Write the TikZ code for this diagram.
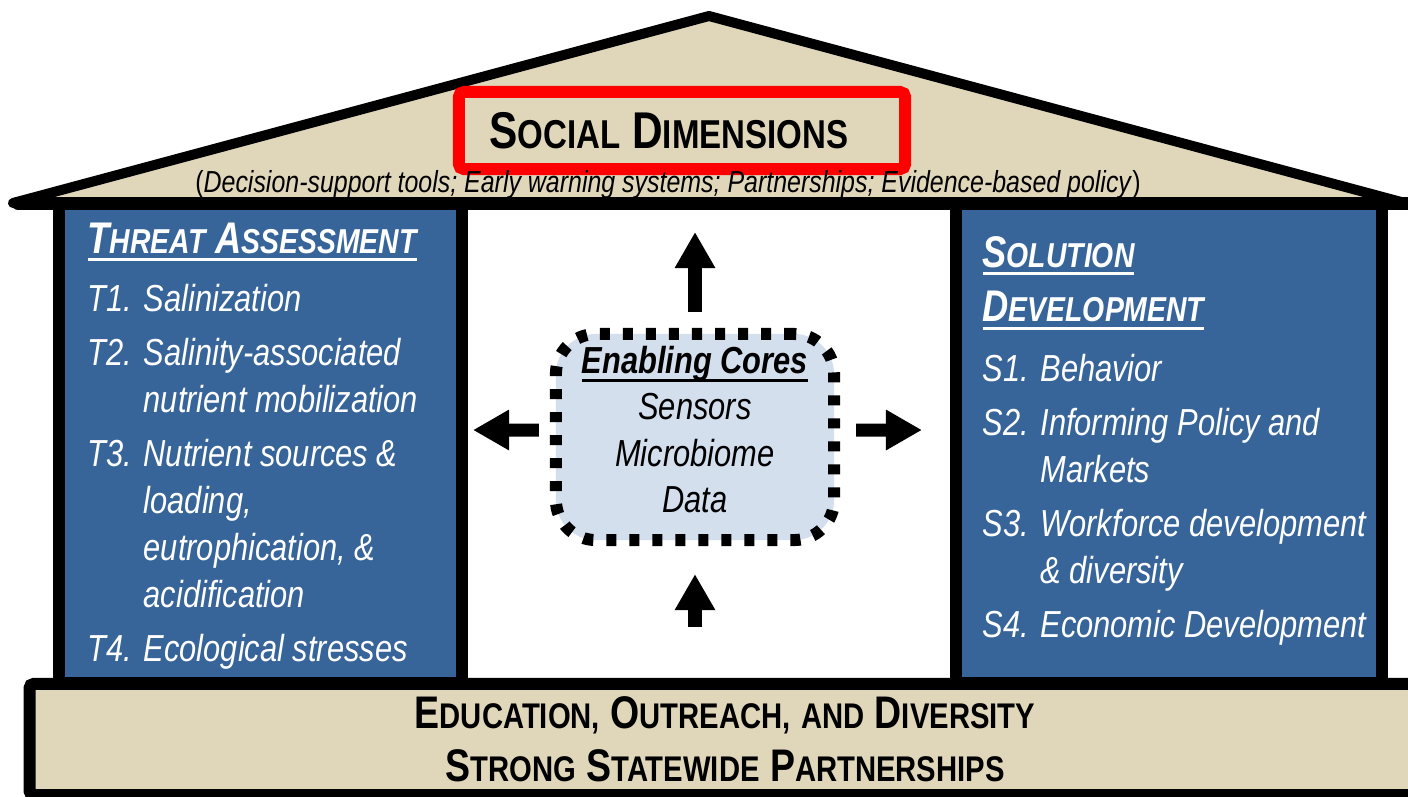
\documentclass[tikz,border=0pt]{standalone}
\usepackage{fontspec}
\setmainfont{Liberation Sans}[FakeStretch=0.82]
\usepackage{xcolor}
\usetikzlibrary{positioning, arrows.meta}

\definecolor{roofbeige}{RGB}{224,215,187}
\definecolor{pillarblue}{RGB}{55,101,154}
\definecolor{corefill}{RGB}{212,223,238}

% fake small caps and a low underline
\makeatletter
\newcommand{\scap}[2]{#1{\fontsize{\fpeval{0.78*\f@size}}{\f@baselineskip}\selectfont #2}}
\makeatother
\newcommand{\uln}[1]{\setbox0\hbox{#1}\rlap{\rule[-2.4pt]{\wd0}{0.9pt}}\box0}

\begin{document}
\begin{tikzpicture}[x=0.01cm, y=-0.01cm,
    pillar/.style={draw=black, fill=pillarblue, line width=0.12cm, minimum height=4.79cm, inner sep=0pt},
    headtext/.style={text=white, anchor=base west, inner sep=0pt, font=\bfseries\itshape\fontsize{12.6}{15.6}\selectfont},
    listtext/.style={text=white, anchor=base west, inner sep=0pt, font=\itshape\fontsize{10.7}{13.4}\selectfont},
    cores/.style={draw=black, fill=corefill, line width=0.12cm, dash pattern=on 0.10cm off 0.13cm,
      rounded corners=0.4cm, minimum width=2.78cm, minimum height=2.06cm, align=center,
      font=\itshape\fontsize{10.7}{13.2}\selectfont},
    blockarrow/.style={line width=0.13cm, -{Triangle[width=0.38cm, length=0.36cm]}}]
  \useasboundingbox (0,0) rectangle (1408,796);
  \clip (0,0) rectangle (1408,796);
  \fill[white] (0,0) rectangle (1408,796);

  % roof
  \filldraw[fill=roofbeige, line width=0.10cm, line join=round] (13,203) -- (709,16) -- (1405,203) -- cycle;

  % pillars
  \node[pillar, minimum width=4.03cm] (threat) at (260.5,443.5) {};
  \node[pillar, minimum width=4.255cm] (solution) at (1169,443.5) {};
  \draw[line width=0.13cm, line cap=round] (18,203) -- (1420,203);

  % foundation
  \node[draw=black, fill=roofbeige, line width=0.12cm, rounded corners=0.04cm, minimum width=13.90cm,
    minimum height=1.11cm, inner sep=0pt, align=center, font=\bfseries\fontsize{13}{15.1}\selectfont]
    (base) at (725,739.5) {\scap{E}{DUCATION,} \scap{O}{UTREACH,} \scap{}{AND} \scap{D}{IVERSITY}\\
    \scap{S}{TRONG} \scap{S}{TATEWIDE} \scap{P}{ARTNERSHIPS}};

  % roof texts
  \node[draw=red, line width=0.12cm, rounded corners=0.05cm, minimum width=4.46cm, minimum height=0.77cm] (socialbox) at (682,130.5) {};
  \node[font=\bfseries\fontsize{14.7}{16}\selectfont, inner sep=0pt] (social) at ([xshift=-0.13cm]socialbox.center) {\scap{S}{OCIAL} \scap{D}{IMENSIONS}};
  \node[anchor=base, inner sep=0pt, font=\fontsize{8.65}{9}\selectfont] (socialsub) at (668,192)
    {(\textit{Decision-support tools; Early warning systems; Partnerships; Evidence-based policy})};

  % threat assessment
  \node[headtext] (threathead) at (87,253) {\uln{\scap{T}{HREAT} \scap{A}{SSESSMENT}}};
  \node[listtext] (threatlist) at (87,311) {\begin{tabular}[t]{@{}l@{ }l@{}}
    T1. & Salinization\\[2pt]
    T2. & Salinity-associated\\
        & nutrient mobilization\\[2pt]
    T3. & Nutrient sources \&\\
        & loading,\\
        & eutrophication, \&\\
        & acidification\\[2pt]
    T4. & Ecological stresses
  \end{tabular}};

  % solution development
  \node[headtext] (solutionhead) at (982,267) {\begin{tabular}[t]{@{}l@{}}
    \uln{\scap{S}{OLUTION}}\\
    \uln{\scap{D}{EVELOPMENT}}
  \end{tabular}};
  \node[listtext] (solutionlist) at (982,381) {\begin{tabular}[t]{@{}l@{ }l@{}}
    S1. & Behavior\\[2pt]
    S2. & Informing Policy and\\
        & Markets\\[2pt]
    S3. & Workforce development\\
        & \& diversity\\[2pt]
    S4. & Economic Development
  \end{tabular}};

  % enabling cores
  \node[cores] (cores) at (695,437) {\textbf{\uln{Enabling Cores}}\\Sensors\\Microbiome\\Data\rule[-0.15cm]{0pt}{0pt}};
  \coordinate (uptip) at (695,232);
  \coordinate (lefttip) at (473,430);
  \coordinate (righttip) at (922,430);
  \coordinate (downtail) at (695,627);
  \draw[blockarrow, shorten <=0.16cm] (cores.north) -- (uptip);
  \draw[blockarrow, shorten <=0.11cm] ([yshift=0.07cm]cores.west) -- (lefttip);
  \draw[blockarrow, shorten <=0.16cm] ([yshift=0.07cm]cores.east) -- (righttip);
  \draw[blockarrow, shorten >=0.28cm] (downtail) -- (cores.south);
\end{tikzpicture}
\end{document}
